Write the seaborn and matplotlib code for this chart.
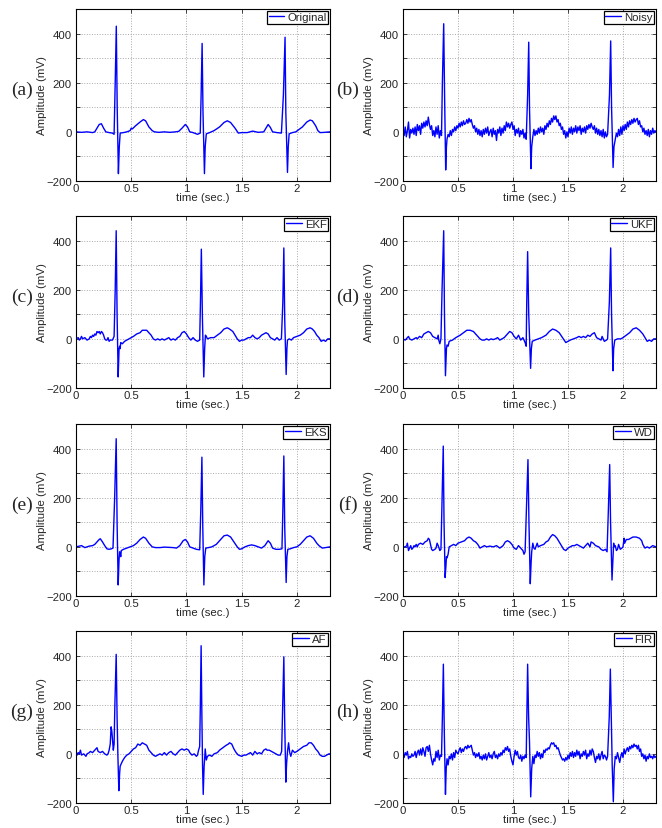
import numpy as np
import pandas as pd
import matplotlib
matplotlib.use("Agg")
import matplotlib.pyplot as plt
import seaborn as sns

# ---------------- data (time in s, amplitude in mV) ----------------
original_pts = [(0.00,0),(0.05,-2),(0.10,0),(0.15,-3),(0.17,0),(0.19,15),(0.21,30),(0.23,33),(0.25,15),(0.27,0),
    (0.30,-3),(0.33,-5),(0.345,-10),(0.355,200),(0.365,430),(0.373,100),(0.384,-170),(0.392,-60),(0.40,-5),(0.43,-3),
    (0.46,0),(0.49,5),(0.50,15),(0.51,12),(0.54,25),(0.58,40),(0.61,50),(0.63,45),(0.66,20),(0.69,5),(0.71,0),(0.75,-2),
    (0.80,0),(0.85,-2),(0.90,0),(0.93,2),(0.96,15),(0.99,30),(1.01,20),(1.03,0),(1.06,-3),(1.10,-10),(1.125,-5),
    (1.133,150),(1.142,360),(1.150,80),(1.163,-170),(1.170,-60),(1.18,-8),(1.21,-3),(1.25,5),(1.30,20),(1.34,38),
    (1.37,45),(1.40,38),(1.44,15),(1.47,-5),(1.50,-3),(1.55,-3),(1.60,3),(1.65,-2),(1.70,0),(1.72,15),(1.74,30),
    (1.76,18),(1.78,0),(1.82,-3),(1.86,-5),(1.878,150),(1.893,385),(1.900,80),(1.915,-165),(1.922,-60),(1.93,-8),
    (1.96,-3),(1.99,0),(2.02,10),(2.05,20),(2.09,40),(2.12,48),(2.14,45),(2.17,25),(2.19,5),(2.21,-3),(2.25,-2),(2.30,0)]

noisy_pts = [(0.00,10),(0.01,-15),(0.02,20),(0.03,-20),(0.04,5),(0.05,40),(0.06,-25),(0.07,10),(0.08,-5),(0.09,15),
    (0.10,-10),(0.11,20),(0.12,-15),(0.13,30),(0.14,5),(0.15,25),(0.16,-10),(0.17,35),(0.18,15),(0.19,40),(0.20,20),
    (0.21,45),(0.22,25),(0.23,60),(0.24,30),(0.25,10),(0.26,25),(0.27,-15),(0.28,5),(0.29,-20),(0.30,20),(0.31,-10),
    (0.32,25),(0.33,-25),(0.34,5),(0.35,-15),(0.358,200),(0.37,440),(0.378,150),(0.388,-155),(0.395,-60),(0.40,-30),
    (0.41,-10),(0.42,-20),(0.43,5),(0.44,-15),(0.45,10),(0.46,0),(0.47,20),(0.48,5),(0.49,25),(0.50,15),(0.51,35),
    (0.52,20),(0.53,40),(0.54,25),(0.55,45),(0.56,30),(0.57,35),(0.58,50),(0.59,35),(0.60,55),(0.61,40),(0.62,50),
    (0.63,30),(0.64,15),(0.65,25),(0.66,0),(0.67,15),(0.68,-10),(0.69,10),(0.70,-15),(0.71,5),(0.72,-20),(0.73,10),
    (0.74,-10),(0.75,15),(0.76,-5),(0.77,20),(0.78,-15),(0.79,0),(0.80,10),(0.81,-20),(0.82,15),(0.83,-10),(0.84,5),
    (0.85,-35),(0.86,10),(0.87,-5),(0.88,20),(0.89,-15),(0.90,15),(0.91,-5),(0.92,25),(0.93,5),(0.94,40),(0.95,20),
    (0.96,35),(0.97,15),(0.98,30),(0.99,40),(1.00,10),(1.01,25),(1.02,-15),(1.03,10),(1.04,-5),(1.05,15),(1.06,-20),
    (1.07,5),(1.08,-10),(1.09,10),(1.10,-25),(1.11,-5),(1.12,-30),(1.133,150),(1.143,365),(1.150,100),(1.163,-150),
    (1.170,-60),(1.18,-20),(1.19,10),(1.20,-15),(1.21,5),(1.22,-10),(1.23,15),(1.24,-5),(1.25,20),(1.26,0),(1.27,15),
    (1.28,-10),(1.29,25),(1.30,10),(1.31,35),(1.32,20),(1.33,45),(1.34,30),(1.35,55),(1.36,40),(1.37,65),(1.38,50),
    (1.39,65),(1.40,40),(1.41,50),(1.42,25),(1.43,35),(1.44,10),(1.45,20),(1.46,-10),(1.47,5),(1.48,-25),(1.49,0),
    (1.50,-20),(1.51,15),(1.52,-5),(1.53,20),(1.54,-10),(1.55,15),(1.56,0),(1.57,25),(1.58,-5),(1.59,20),(1.60,5),
    (1.61,25),(1.62,-10),(1.63,15),(1.64,0),(1.65,20),(1.66,-5),(1.67,25),(1.68,10),(1.69,30),(1.70,15),(1.71,35),
    (1.72,20),(1.73,10),(1.74,25),(1.75,-5),(1.76,15),(1.77,-10),(1.78,10),(1.79,-15),(1.80,5),(1.81,-20),(1.82,10),
    (1.83,-25),(1.84,0),(1.85,-20),(1.86,-10),(1.877,150),(1.888,370),(1.896,100),(1.91,-145),(1.918,-60),(1.93,-30),
    (1.94,-5),(1.95,-20),(1.96,10),(1.97,-15),(1.98,20),(1.99,-10),(2.00,25),(2.01,5),(2.02,30),(2.03,10),(2.04,40),
    (2.05,20),(2.06,45),(2.07,30),(2.08,50),(2.09,35),(2.10,55),(2.11,40),(2.12,50),(2.13,55),(2.14,30),(2.15,45),
    (2.16,20),(2.17,25),(2.18,0),(2.19,15),(2.20,-10),(2.21,5),(2.22,-15),(2.23,10),(2.24,-20),(2.25,5),(2.26,-10),
    (2.27,15),(2.28,-5),(2.29,5),(2.30,0)]

ekf_pts = [(0.00,0),(0.02,5),(0.03,-5),(0.04,0),(0.05,10),(0.06,0),(0.08,5),(0.10,-5),(0.12,0),(0.13,10),(0.14,5),
    (0.15,15),(0.16,10),(0.17,20),(0.18,15),(0.19,30),(0.20,25),(0.21,30),(0.22,20),(0.23,30),(0.24,25),(0.25,15),
    (0.26,0),(0.27,-5),(0.28,-5),(0.29,5),(0.30,-10),(0.31,-5),(0.33,-5),(0.345,10),(0.355,200),(0.364,440),
    (0.372,100),(0.382,-155),(0.39,-40),(0.395,-30),(0.40,-40),(0.405,-15),(0.42,-20),(0.44,-10),(0.46,-5),(0.48,0),
    (0.50,5),(0.52,10),(0.55,20),(0.58,25),(0.60,35),(0.62,35),(0.64,35),(0.66,25),(0.68,15),(0.70,0),(0.72,-5),
    (0.74,0),(0.76,-5),(0.78,0),(0.80,-5),(0.82,0),(0.84,5),(0.86,-5),(0.88,0),(0.90,-5),(0.92,5),(0.94,10),(0.96,25),
    (0.98,30),(1.00,20),(1.02,5),(1.04,-5),(1.06,5),(1.08,-5),(1.10,-10),(1.12,-5),(1.127,150),(1.135,365),(1.145,80),
    (1.157,-155),(1.165,-40),(1.172,15),(1.18,10),(1.19,0),(1.22,5),(1.25,5),(1.28,15),(1.31,25),(1.34,40),(1.37,45),
    (1.39,40),(1.42,30),(1.44,15),(1.46,0),(1.48,-10),(1.50,-5),(1.52,-5),(1.54,0),(1.56,5),(1.58,5),(1.60,15),
    (1.62,5),(1.64,0),(1.66,5),(1.68,15),(1.70,20),(1.72,25),(1.74,20),(1.76,5),(1.78,0),(1.80,-5),(1.82,5),(1.84,-5),
    (1.86,0),(1.873,150),(1.882,370),(1.89,80),(1.903,-145),(1.91,-40),(1.915,-5),(1.93,0),(1.95,-5),(1.97,5),
    (2.00,10),(2.03,15),(2.06,25),(2.09,40),(2.12,45),(2.14,40),(2.16,30),(2.18,15),(2.20,5),(2.22,-10),(2.24,-5),
    (2.26,-10),(2.28,0),(2.30,0)]

ukf_pts = [(0.00,0),(0.02,-5),(0.04,5),(0.05,10),(0.06,0),(0.08,-5),(0.10,0),(0.12,5),(0.13,0),(0.15,10),(0.17,5),
    (0.19,20),(0.21,25),(0.23,30),(0.25,25),(0.27,10),(0.29,5),(0.31,0),(0.32,15),(0.325,-5),(0.335,-20),(0.345,0),
    (0.355,200),(0.37,440),(0.377,100),(0.386,-150),(0.395,-40),(0.40,-25),(0.41,-30),(0.42,-10),(0.45,-5),(0.48,5),
    (0.52,15),(0.55,25),(0.58,35),(0.61,35),(0.64,30),(0.67,15),(0.70,0),(0.72,-5),(0.74,-5),(0.76,0),(0.78,-5),
    (0.80,0),(0.82,-3),(0.84,0),(0.86,5),(0.88,-5),(0.90,0),(0.92,5),(0.94,15),(0.97,30),(0.99,25),(1.01,10),(1.03,0),
    (1.05,15),(1.07,-5),(1.09,5),(1.11,-15),(1.12,-30),(1.125,150),(1.133,355),(1.143,100),(1.16,-120),(1.167,-40),
    (1.175,-10),(1.20,-5),(1.23,0),(1.26,5),(1.30,15),(1.33,30),(1.36,40),(1.39,35),(1.42,25),(1.45,5),(1.48,-15),
    (1.50,-10),(1.52,-5),(1.55,0),(1.58,5),(1.60,10),(1.62,5),(1.64,10),(1.66,5),(1.68,15),(1.70,10),(1.72,20),
    (1.74,25),(1.76,5),(1.78,0),(1.80,-5),(1.81,10),(1.83,-10),(1.85,-5),(1.86,0),(1.876,150),(1.888,370),(1.896,100),
    (1.909,-130),(1.915,-40),(1.925,-5),(1.95,0),(1.98,0),(2.00,5),(2.03,15),(2.06,25),(2.09,40),(2.12,45),(2.15,35),
    (2.18,20),(2.20,5),(2.22,-10),(2.24,-5),(2.26,-10),(2.28,0),(2.30,0)]

eks_pts = [(0.00,0),(0.03,3),(0.05,5),(0.08,-3),(0.10,0),(0.12,3),(0.15,5),(0.17,10),(0.19,20),(0.21,30),(0.22,33),
    (0.24,20),(0.26,5),(0.28,-8),(0.30,-10),(0.32,-8),(0.335,-5),(0.35,200),(0.364,440),(0.372,100),(0.382,-155),
    (0.39,-50),(0.395,-20),(0.40,-25),(0.405,-40),(0.41,-15),(0.43,-10),(0.46,-5),(0.49,0),(0.52,5),(0.55,15),
    (0.58,30),(0.61,40),(0.63,35),(0.66,15),(0.69,0),(0.72,-3),(0.76,-3),(0.80,-1),(0.84,-2),(0.88,-3),(0.91,-5),
    (0.94,5),(0.97,25),(0.99,30),(1.01,20),(1.03,0),(1.06,-5),(1.09,-10),(1.12,-12),(1.13,150),(1.14,365),(1.148,80),
    (1.158,-155),(1.166,-40),(1.175,-5),(1.20,-3),(1.23,0),(1.27,10),(1.31,30),(1.34,45),(1.37,48),(1.40,40),
    (1.43,20),(1.46,0),(1.48,-10),(1.50,-8),(1.53,0),(1.56,5),(1.59,8),(1.62,5),(1.65,0),(1.68,-5),(1.71,5),
    (1.74,25),(1.76,15),(1.78,-5),(1.81,-10),(1.84,-10),(1.865,-8),(1.873,150),(1.882,370),(1.89,80),(1.903,-145),
    (1.91,-40),(1.918,-10),(1.94,-8),(1.97,-3),(2.00,0),(2.03,10),(2.06,25),(2.09,40),(2.12,45),(2.15,35),(2.18,15),
    (2.20,5),(2.23,-5),(2.26,-3),(2.30,0)]

wd_pts = [(0.00,0),(0.02,0),(0.035,5),(0.04,15),(0.05,-15),(0.06,-5),(0.07,5),(0.08,-10),(0.09,-5),(0.10,5),
    (0.11,0),(0.12,10),(0.13,0),(0.14,10),(0.16,15),(0.18,10),(0.20,20),(0.22,25),(0.23,35),(0.24,30),(0.25,10),
    (0.26,-10),(0.27,-15),(0.29,-10),(0.30,-5),(0.31,15),(0.32,5),(0.335,-15),(0.345,-10),(0.355,200),(0.366,410),
    (0.373,100),(0.383,-125),(0.39,-80),(0.395,-40),(0.40,-45),(0.41,-30),(0.42,0),(0.44,5),(0.46,10),(0.48,5),
    (0.50,15),(0.53,20),(0.56,25),(0.58,35),(0.60,40),(0.62,35),(0.64,25),(0.66,20),(0.68,10),(0.70,-5),(0.72,0),
    (0.74,5),(0.76,0),(0.79,3),(0.82,0),(0.85,5),(0.88,-5),(0.91,5),(0.93,20),(0.95,25),(0.97,20),(0.99,10),
    (1.01,-5),(1.03,-10),(1.05,5),(1.07,-5),(1.09,-15),(1.10,-30),(1.11,-20),(1.122,150),(1.136,355),(1.145,100),
    (1.157,-150),(1.165,-60),(1.17,-20),(1.18,15),(1.19,-5),(1.20,-10),(1.22,15),(1.23,0),(1.25,5),(1.28,10),
    (1.30,20),(1.32,25),(1.34,40),(1.36,50),(1.38,45),(1.40,35),(1.42,20),(1.44,5),(1.46,-10),(1.48,-15),(1.50,-5),
    (1.52,0),(1.54,5),(1.56,5),(1.58,10),(1.60,5),(1.62,0),(1.64,-5),(1.66,5),(1.68,15),(1.70,0),(1.71,20),(1.73,15),
    (1.75,5),(1.78,0),(1.80,-10),(1.82,-15),(1.84,-10),(1.855,-20),(1.867,150),(1.879,335),(1.887,100),(1.90,-135),
    (1.907,-60),(1.915,15),(1.92,0),(1.93,5),(1.94,-15),(1.95,-10),(1.96,10),(1.975,-10),(1.99,-5),(2.00,0),
    (2.01,35),(2.015,15),(2.03,30),(2.05,30),(2.07,35),(2.09,40),(2.12,40),(2.15,35),(2.17,25),(2.18,10),(2.20,-5),
    (2.22,0),(2.24,-5),(2.27,5),(2.30,0)]

af_pts = [(0.00,10),(0.01,-5),(0.02,5),(0.03,0),(0.04,15),(0.05,-5),(0.07,0),(0.09,-10),(0.10,0),(0.12,5),(0.13,10),
    (0.15,5),(0.17,15),(0.18,20),(0.19,25),(0.20,10),(0.22,5),(0.24,10),(0.26,0),(0.28,-5),(0.29,0),(0.30,15),
    (0.31,40),(0.318,110),(0.325,90),(0.33,60),(0.338,15),(0.345,40),(0.352,200),(0.364,405),(0.372,150),(0.38,-20),
    (0.388,-150),(0.395,-80),(0.40,-50),(0.41,-40),(0.42,-30),(0.44,-15),(0.46,-5),(0.48,0),(0.50,10),(0.52,20),
    (0.54,25),(0.56,40),(0.58,35),(0.60,45),(0.62,40),(0.64,35),(0.66,15),(0.68,5),(0.70,-5),(0.72,-10),(0.74,-5),
    (0.76,0),(0.78,-5),(0.80,5),(0.82,-5),(0.84,5),(0.86,10),(0.88,0),(0.90,-5),(0.92,5),(0.94,15),(0.96,20),
    (0.98,15),(1.00,20),(1.02,15),(1.03,5),(1.05,-5),(1.07,0),(1.09,-10),(1.10,-5),(1.11,15),(1.12,30),(1.126,200),
    (1.133,440),(1.14,150),(1.146,-50),(1.152,-165),(1.16,-50),(1.165,-20),(1.17,20),(1.175,-5),(1.18,-25),
    (1.19,-10),(1.21,-5),(1.23,-10),(1.25,0),(1.28,5),(1.30,15),(1.33,25),(1.36,35),(1.38,40),(1.39,45),(1.41,40),
    (1.43,20),(1.45,5),(1.47,-5),(1.50,-10),(1.52,-5),(1.54,-5),(1.56,0),(1.58,5),(1.60,-5),(1.62,10),(1.64,0),
    (1.66,5),(1.68,0),(1.70,15),(1.72,20),(1.73,15),(1.75,15),(1.77,10),(1.79,5),(1.81,0),(1.83,-5),(1.85,-5),
    (1.862,10),(1.872,200),(1.882,395),(1.889,150),(1.90,-115),(1.907,-40),(1.915,10),(1.925,45),(1.935,5),
    (1.945,-10),(1.96,15),(1.98,5),(2.00,10),(2.03,20),(2.06,30),(2.09,35),(2.11,45),(2.13,45),(2.15,35),(2.17,20),
    (2.19,10),(2.21,-5),(2.23,-10),(2.25,-10),(2.27,-5),(2.29,0),(2.30,0)]

fir_pts = [(0.00,-10),(0.01,-15),(0.02,5),(0.03,-5),(0.04,10),(0.05,-20),(0.06,-10),(0.07,-15),(0.08,0),(0.09,-10),
    (0.10,-5),(0.11,10),(0.12,-15),(0.13,5),(0.14,15),(0.15,-5),(0.16,20),(0.17,-5),(0.18,25),(0.19,10),(0.20,-10),
    (0.21,25),(0.22,30),(0.23,10),(0.24,35),(0.25,0),(0.26,-25),(0.27,-45),(0.28,-20),(0.29,-30),(0.30,10),
    (0.31,-15),(0.32,15),(0.33,-25),(0.34,-5),(0.35,-10),(0.358,150),(0.367,365),(0.375,100),(0.386,-165),
    (0.393,-60),(0.40,-20),(0.41,-45),(0.42,-10),(0.43,-20),(0.44,0),(0.45,-25),(0.46,5),(0.47,-15),(0.48,15),
    (0.49,5),(0.50,0),(0.51,15),(0.52,25),(0.53,5),(0.54,20),(0.55,10),(0.56,25),(0.57,30),(0.58,20),(0.59,35),
    (0.60,25),(0.61,30),(0.62,35),(0.63,15),(0.64,-5),(0.65,5),(0.66,-15),(0.67,0),(0.68,-10),(0.69,5),(0.70,-20),
    (0.71,-10),(0.72,-25),(0.73,-5),(0.74,-20),(0.75,0),(0.76,-25),(0.77,-10),(0.78,5),(0.79,-15),(0.80,-5),
    (0.81,-20),(0.82,0),(0.83,10),(0.84,-15),(0.85,-5),(0.86,-20),(0.87,0),(0.88,-10),(0.89,5),(0.90,-5),(0.91,15),
    (0.92,5),(0.93,25),(0.94,15),(0.95,30),(0.96,10),(0.97,20),(0.98,-10),(0.99,-30),(1.00,-45),(1.01,-10),
    (1.02,15),(1.03,-5),(1.04,10),(1.05,-15),(1.06,-20),(1.07,-5),(1.08,-30),(1.09,-10),(1.10,-20),(1.11,-5),
    (1.12,-15),(1.133,365),(1.142,150),(1.150,50),(1.161,-175),(1.170,-60),(1.18,-10),(1.19,-40),(1.20,-5),
    (1.21,-15),(1.22,10),(1.23,-10),(1.24,5),(1.25,-20),(1.26,0),(1.27,-15),(1.28,15),(1.29,5),(1.30,20),(1.31,15),
    (1.32,25),(1.33,20),(1.34,35),(1.35,45),(1.36,40),(1.37,45),(1.38,30),(1.39,35),(1.40,20),(1.41,25),(1.42,10),
    (1.43,-5),(1.44,-15),(1.45,-25),(1.46,-20),(1.47,-30),(1.48,-15),(1.49,-25),(1.50,-5),(1.51,-20),(1.52,5),
    (1.53,-10),(1.54,10),(1.55,-15),(1.56,5),(1.57,-10),(1.58,15),(1.59,-5),(1.60,10),(1.61,-20),(1.62,0),
    (1.63,-10),(1.64,10),(1.65,-5),(1.66,15),(1.67,-20),(1.68,0),(1.69,-10),(1.70,15),(1.71,-5),(1.72,20),(1.73,10),
    (1.74,-15),(1.75,-35),(1.76,-10),(1.77,-20),(1.78,0),(1.79,-25),(1.80,-5),(1.81,10),(1.82,-20),(1.83,-5),
    (1.84,-10),(1.85,-25),(1.86,-10),(1.875,150),(1.885,345),(1.893,150),(1.902,-50),(1.912,-195),(1.92,-60),
    (1.93,-10),(1.94,-20),(1.95,5),(1.96,-15),(1.97,-35),(1.98,-10),(1.99,5),(2.00,-15),(2.01,20),(2.02,0),
    (2.03,15),(2.04,25),(2.05,10),(2.06,30),(2.07,20),(2.08,35),(2.09,25),(2.10,40),(2.11,30),(2.12,35),(2.13,20),
    (2.14,35),(2.15,10),(2.16,20),(2.17,-10),(2.18,0),(2.19,-20),(2.20,-5),(2.21,-30),(2.22,-10),(2.23,-20),
    (2.24,0),(2.25,-15),(2.26,-10),(2.27,-20),(2.28,-5),(2.29,-15),(2.30,-10)]

panel_tags = ["(a)", "(b)", "(c)", "(d)", "(e)", "(f)", "(g)", "(h)"]
series_names = ["Original", "Noisy", "EKF", "UKF", "EKS", "WD", "AF", "FIR"]
series_pts = [original_pts, noisy_pts, ekf_pts, ukf_pts, eks_pts, wd_pts, af_pts, fir_pts]

x_ticks = [0, 0.5, 1, 1.5, 2]
x_tick_labels = ["0", "0.5", "1", "1.5", "2"]
y_ticks = [-200, -100, 0, 100, 200, 300, 400, 500]
y_tick_labels = ["\u2212200", "", "0", "", "200", "", "400", ""]

# ---------------- plotting ----------------
sns.set_style("ticks")
plt.rcParams['font.family'] = ['Liberation Sans', 'DejaVu Sans']

W, H = 662, 829
fig = plt.figure(figsize=(W / 100, H / 100), dpi=100)
col_left = [76, 403]
col_width = [254, 253]
row_top = [10, 217, 425, 632]
ax_h = 172
tag_x = [22, 348]

for i, (tag, name, pts) in enumerate(zip(panel_tags, series_names, series_pts)):
    r, c = divmod(i, 2)
    ax = fig.add_axes([col_left[c] / W, 1 - (row_top[r] + ax_h) / H, col_width[c] / W, ax_h / H])
    df = pd.DataFrame(pts, columns=["t", "v"])
    sns.lineplot(data=df, x="t", y="v", ax=ax, color="#0000ff", lw=1.0,
                 label=name, sort=False, estimator=None)
    ax.set_xlim(0, 2.3)
    ax.set_ylim(-200, 500)
    ax.set_xticks(x_ticks)
    ax.set_xticklabels(x_tick_labels)
    ax.set_yticks(y_ticks)
    ax.set_yticklabels(y_tick_labels)
    ax.grid(True, ls=":", color="#a8a8a8", lw=0.7)
    ax.tick_params(direction="in", top=True, right=True, labelsize=8.2, length=3, width=0.6)
    ax.tick_params(axis="x", pad=1.5)
    ax.tick_params(axis="y", pad=3)
    for s in ax.spines.values():
        s.set_linewidth(0.8)
        s.set_color("black")
    ax.set_xlabel("time (sec.)", fontsize=8.2, labelpad=-0.8)
    ax.set_ylabel("Amplitude (mV)", fontsize=8.2)
    ax.yaxis.set_label_coords(-29 / col_width[c], 0.5)
    leg = ax.legend(loc="upper right", fontsize=8.2, frameon=True, fancybox=False,
                    edgecolor="black", framealpha=1, borderpad=0.15, handlelength=1.4,
                    handletextpad=0.25, borderaxespad=0.15)
    leg.get_frame().set_linewidth(0.9)
    fig.text(tag_x[c] / W, 1 - (row_top[r] + ax_h / 2 - 6) / H, tag,
             family=["Liberation Serif", "DejaVu Serif"], fontsize=14, ha="center", va="center")

fig.savefig("out.png", dpi=100)
